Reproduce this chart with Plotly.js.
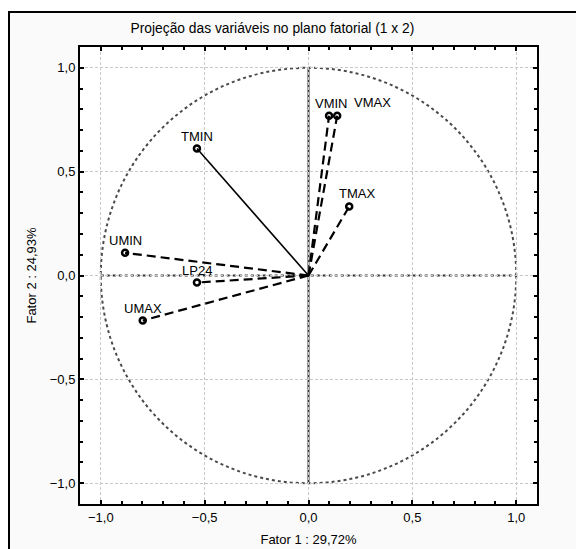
<!DOCTYPE html>
<html>
<head>
<meta charset="utf-8">
<script src="https://cdn.plot.ly/plotly-3.0.1.min.js"></script>
<style>
  html, body { margin: 0; padding: 0; background: #ffffff; }
  #wrap { position: relative; width: 576px; height: 549px; overflow: hidden; }
  #frame { position: absolute; left: 8px; top: 11px; width: 600px; height: 600px;
           border-left: 2px solid #000; border-top: 2px solid #000; background: #fafafa; }
  #chart { position: absolute; left: 0; top: 0; width: 576px; height: 549px; }
</style>
</head>
<body>
<div id="wrap">
  <div id="frame"></div>
  <div id="chart"></div>
</div>
<script>
// Variables projected on the factorial plane (factor 1 x factor 2)
const variables = ["TMIN", "UMIN", "LP24", "UMAX", "VMIN", "VMAX", "TMAX"];
const factor1   = [-0.537, -0.883, -0.537, -0.798, 0.099, 0.138, 0.196];
const factor2   = [ 0.611,  0.109, -0.034, -0.217, 0.769, 0.769, 0.332];

const titleText = "Projeção das variáveis no plano fatorial (1 x 2)";
const xTitle = "Fator 1 : 29,72%";
const yTitle = "Fator 2 : 24,93%";
const tickVals = [-1.0, -0.5, 0.0, 0.5, 1.0];

// styling (not data)
const FONT = "Liberation Sans, Arial, sans-serif";
const lineDash = {TMIN: "solid"};
const labelShift = {VMAX: [35, 13], VMIN: [2, 12], TMAX: [8, 13]};

const traces = [];
const annotations = [];
variables.forEach((name, i) => {
  traces.push({
    type: "scatter",
    mode: "lines",
    x: [0, factor1[i]],
    y: [0, factor2[i]],
    line: {color: "#000", width: lineDash[name] ? 1.6 : 2.2, dash: lineDash[name] || "9px,5px"},
    hoverinfo: "skip",
    showlegend: false
  });
  const s = labelShift[name] || [0, 12];
  annotations.push({
    x: factor1[i], y: factor2[i], xref: "x", yref: "y",
    text: name, showarrow: false,
    xshift: s[0], yshift: s[1],
    xanchor: "center", yanchor: "middle",
    font: {family: FONT, size: 13, color: "#000"}
  });
});
traces.push({
  type: "scatter",
  mode: "markers",
  x: factor1,
  y: factor2,
  text: variables,
  marker: {symbol: "circle-open", size: 6, color: "#000", line: {color: "#000", width: 2.5}},
  showlegend: false
});

const axisCommon = {
  range: [-1.1, 1.1],
  tickvals: tickVals,
  tickformat: ".1f",
  ticks: "inside",
  ticklen: 4,
  tickwidth: 2,
  tickcolor: "#000",
  showline: true,
  linecolor: "#000",
  linewidth: 2,
  mirror: "ticks",
  showgrid: true,
  gridcolor: "#c8c8c8",
  griddash: "3px,2px",
  gridwidth: 1,
  zeroline: false,
  tickfont: {family: FONT, size: 13, color: "#000"},
  minor: {dtick: 0.1, tick0: 0, ticks: "inside", ticklen: 3, tickwidth: 2, tickcolor: "#000", showgrid: false},
  fixedrange: true
};

const layout = {
  width: 576,
  height: 549,
  margin: {l: 80, r: 39, t: 47, b: 45},
  paper_bgcolor: "rgba(0,0,0,0)",
  plot_bgcolor: "#ffffff",
  separators: ",.",
  font: {family: FONT, size: 13, color: "#000"},
  title: {
    text: titleText,
    xref: "container", yref: "container",
    x: 0.473, y: 0.949, xanchor: "center", yanchor: "middle",
    font: {family: FONT, size: 13.8, color: "#000"}
  },
  xaxis: Object.assign({}, axisCommon, {
    title: {text: xTitle, standoff: 11, font: {family: FONT, size: 13, color: "#000"}}
  }),
  yaxis: Object.assign({}, axisCommon, {
    title: {text: yTitle, standoff: 10, font: {family: FONT, size: 13, color: "#000"}}
  }),
  shapes: [
    {type: "circle", xref: "x", yref: "y", x0: -1, x1: 1, y0: -1, y1: 1,
     line: {color: "#4a4a4a", width: 2, dash: "dot"}, layer: "below"},
    {type: "line", xref: "x", yref: "y", x0: 0, x1: 0, y0: -1, y1: 1,
     line: {color: "#3a3a3a", width: 2}, layer: "below"},
    {type: "line", xref: "x", yref: "y", x0: -1, x1: 1, y0: 0, y1: 0,
     line: {color: "#333", width: 2, dash: "dot"}, layer: "below"}
  ],
  annotations: annotations,
  showlegend: false
};

Plotly.newPlot("chart", traces, layout, {displayModeBar: false, staticPlot: true});
</script>
</body>
</html>
